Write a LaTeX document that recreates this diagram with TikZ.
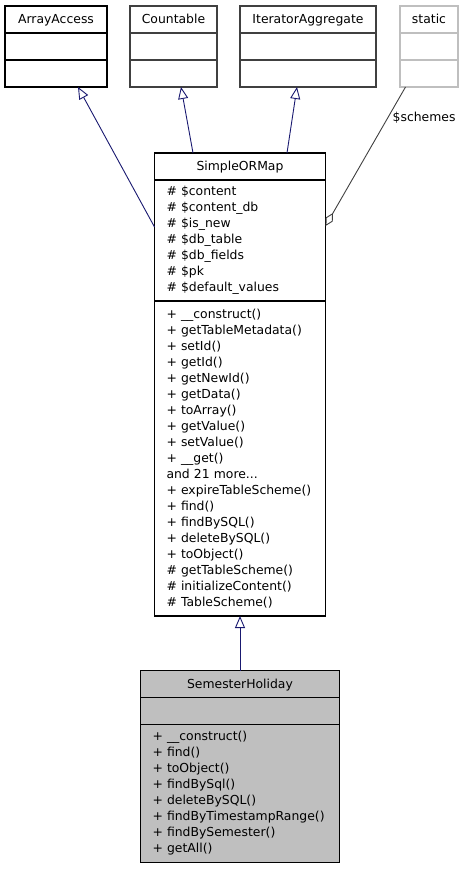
\documentclass[tikz,border=0pt]{standalone}
\usepackage{fontspec}
\setmainfont{DejaVu Sans}
\usetikzlibrary{arrows.meta,positioning}
\definecolor{EdgeBlue}{HTML}{191970}
\definecolor{EdgeGray}{HTML}{404040}
\definecolor{BoxGray}{HTML}{BFBFBF}
\tikzset{
    % Class title part
    classtitle/.style={
        draw=black,
        fill=white,
        line width=1.2pt,
        outer sep=0pt,
        inner sep=0pt,
        minimum height=27pt,
        text height=11.5pt,
        text depth=2.5pt,
        align=center,
        font=\fontsize{12.4}{16}\selectfont
    },
    % Attribute / method part
    classpart/.style={
        classtitle,
        text height={},
        text depth={},
        align=left,
        inner xsep=12pt,
        minimum height=27pt
    },
    % Inheritance arrow
    inherit/.style={
        -{Triangle[open,length=12pt,width=10pt,fill=white]},
        line width=0.9pt,
        draw=EdgeBlue
    },
    % Usage (aggregation) link
    usage/.style={
        {Diamond[open,length=15pt,width=8pt,fill=white]}-,
        line width=0.9pt,
        draw=EdgeGray
    }
}
\begin{document}
\begin{tikzpicture}[x=1pt,y=-1pt]
    \useasboundingbox (0,0) rectangle (463,869);

    % Interfaces
    \node[classtitle, minimum width=102pt] (arrayaccess) at (56,19.5) {ArrayAccess};
    \node[classpart, minimum width=102pt, below=0pt of arrayaccess] (arrayaccess-attr) {};
    \node[classpart, minimum width=102pt, below=0pt of arrayaccess-attr] (arrayaccess-meth) {};

    \node[classtitle, draw=EdgeGray, minimum width=87pt] (countable) at (173.5,19.5) {Countable};
    \node[classpart, draw=EdgeGray, minimum width=87pt, below=0pt of countable] (countable-attr) {};
    \node[classpart, draw=EdgeGray, minimum width=87pt, below=0pt of countable-attr] (countable-meth) {};

    \node[classtitle, draw=EdgeGray, minimum width=136pt] (iteragg) at (308,19.5) {IteratorAggregate};
    \node[classpart, draw=EdgeGray, minimum width=136pt, below=0pt of iteragg] (iteragg-attr) {};
    \node[classpart, draw=EdgeGray, minimum width=136pt, below=0pt of iteragg-attr] (iteragg-meth) {};

    \node[classtitle, draw=BoxGray, minimum width=58pt] (static) at (429,19.5) {static};
    \node[classpart, draw=BoxGray, minimum width=58pt, below=0pt of static] (static-attr) {};
    \node[classpart, draw=BoxGray, minimum width=58pt, below=0pt of static-attr] (static-meth) {};

    % SimpleORMap
    \node[classtitle, minimum width=171pt] (sorm) at (240,166.5) {SimpleORMap};
    \node[classpart, minimum width=171pt, text width=147pt, minimum height=121pt,
          below=0pt of sorm] (sorm-attr) {
        \# \$content\\
        \# \$content\_db\\
        \# \$is\_new\\
        \# \$db\_table\\
        \# \$db\_fields\\
        \# \$pk\\
        \# \$default\_values
    };
    \node[classpart, minimum width=171pt, text width=147pt, minimum height=315pt,
          below=0pt of sorm-attr] (sorm-meth) {
        + \_\_construct()\\
        + getTableMetadata()\\
        + setId()\\
        + getId()\\
        + getNewId()\\
        + getData()\\
        + toArray()\\
        + getValue()\\
        + setValue()\\
        + \_\_get()\\
        and 21 more...\\
        + expireTableScheme()\\
        + find()\\
        + findBySQL()\\
        + deleteBySQL()\\
        + toObject()\\
        \# getTableScheme()\\
        \# initializeContent()\\
        \# TableScheme()
    };

    % SemesterHoliday
    \node[classtitle, fill=BoxGray, minimum width=199pt] (holiday) at (240,684) {SemesterHoliday};
    \node[classpart, fill=BoxGray, minimum width=199pt, below=0pt of holiday] (holiday-attr) {};
    \node[classpart, fill=BoxGray, minimum width=199pt, text width=175pt, minimum height=138pt,
          below=0pt of holiday-attr] (holiday-meth) {
        + \_\_construct()\\
        + find()\\
        + toObject()\\
        + findBySql()\\
        + deleteBySQL()\\
        + findByTimestampRange()\\
        + findBySemester()\\
        + getAll()
    };

    % Edges
    \draw[inherit] ([yshift=13.5pt]sorm-attr.west) -- ([xshift=22pt]arrayaccess-meth.south);
    \draw[inherit] ([xshift=-47pt]sorm.north) -- ([xshift=7.5pt]countable-meth.south);
    \draw[inherit] ([xshift=47pt]sorm.north) -- ([xshift=-11pt]iteragg-meth.south);
    \draw[usage] ([yshift=14.5pt]sorm-attr.east) -- node[pos=0.78, right=1pt,
          font=\fontsize{12.4}{16}\selectfont] {\$schemes} ([xshift=-23.5pt]static-meth.south);
    \draw[inherit] (holiday.north) -- (sorm-meth.south);
\end{tikzpicture}
\end{document}
